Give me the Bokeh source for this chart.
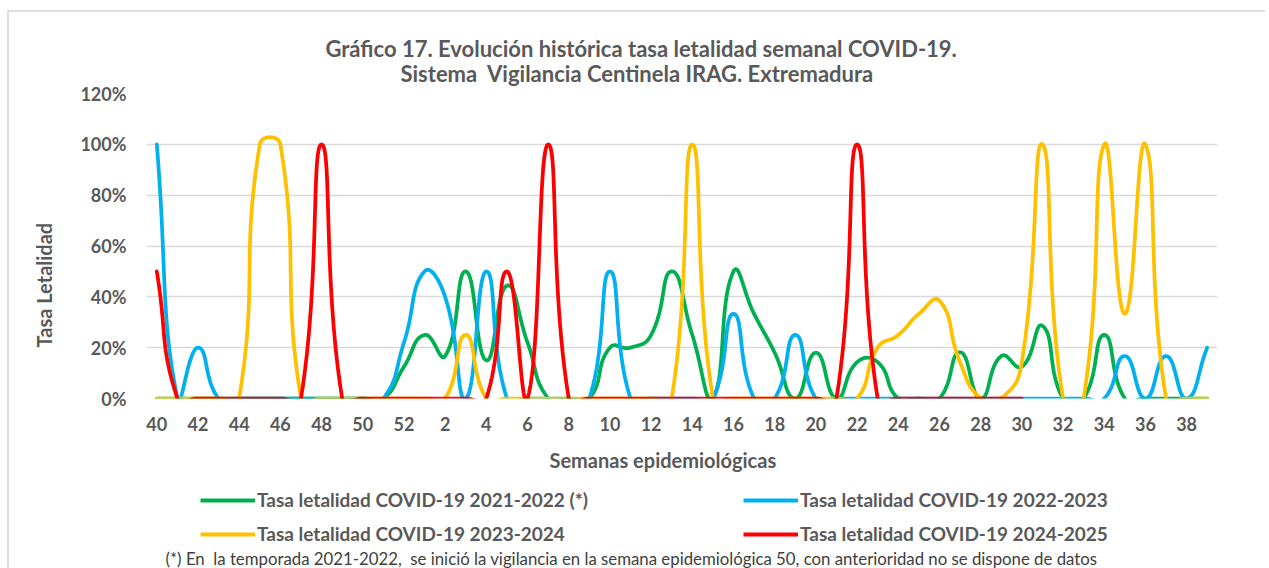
import math
from bokeh.plotting import figure
from bokeh.layouts import column
from bokeh.models import Range1d, FixedTicker, Title, Legend, LegendItem, InlineStyleSheet
from bokeh.embed import file_html
from bokeh.resources import INLINE

# ---- data -------------------------------------------------------------
weeks = [40, 41, 42, 43, 44, 45, 46, 47, 48, 49, 50, 51, 52,
         1, 2, 3, 4, 5, 6, 7, 8, 9, 10, 11, 12, 13, 14, 15, 16, 17, 18, 19,
         20, 21, 22, 23, 24, 25, 26, 27, 28, 29, 30, 31, 32, 33, 34, 35, 36,
         37, 38, 39]

s2122 = [0, 0, 0, 0, 0, 0, 0, 0, 0, 0, 0, 0, 12.5, 25, 16.7, 50, 15, 44.4,
         22, 0, 0, 0, 20, 20, 25, 50, 25, 0, 50, 33.3, 18, 0, 18, 0, 14.3,
         14.3, 0, 0, 0, 18.2, 0, 16.7, 12.5, 28.6, 0, 0, 25, 0, 0, 0, 0, 0]

s2223 = [100, 0, 20, 0, 0, 0, 0, 0, 0, 0, 0, 0, 22, 50, 40, 0, 50, 0, 0, 0,
         0, 0, 50, 0, 0, 0, 0, 0, 33.3, 0, 0, 25, 0, 0, 0, 0, 0, 0, 0, 0, 0,
         0, 0, 0, 0, 0, 0, 16.7, 0, 16.7, 0, 20]

s2324 = [0, 0, 0, 0, 0, 100, 100, 0, 0, 0, 0, 0, 0, 0, 0, 25, 0, 0, 0, 0,
         0, 0, 0, 0, 0, 0, 100, 0, 0, 0, 0, 0, 0, 0, 0, 20, 25, 33.3, 38.5,
         14.3, 0, 0, 14.3, 100, 0, 0, 100, 33.3, 100, 0, 0, 0]

s2425 = [50, 0, 0, 0, 0, 0, 0, 0, 100, 0, 0, 0, 0, 0, 0, 0, 0, 50, 0, 100,
         0, 0, 0, 0, 0, 0, 0, 0, 0, 0, 0, 0, 0, 0, 100, 0, 0, 0, 0, 0, 0, 0,
         0, None, None, None, None, None, None, None, None, None]

series_names = ["Tasa letalidad COVID-19 2021-2022 (*)",
                "Tasa letalidad COVID-19 2022-2023",
                "Tasa letalidad COVID-19 2023-2024",
                "Tasa letalidad COVID-19 2024-2025"]
series_values = [s2122, s2223, s2324, s2425]
series_colors = ["#00B050", "#00B0F0", "#FFC000", "#FF0000"]

y_ticks = [0, 20, 40, 60, 80, 100, 120]

title_1 = "Gráfico 17. Evolución histórica tasa letalidad semanal COVID-19."
title_2 = "Sistema\u00a0 Vigilancia Centinela IRAG. Extremadura"
x_title = "Semanas epidemiológicas"
y_title = "Tasa Letalidad"
footnote = ("(*) En\u00a0 la temporada 2021-2022,\u00a0 se inició la vigilancia en la "
            "semana epidemiológica 50, con anterioridad no se dispone de datos")

# ---- layout -------------------------------------------------------------
W = 1265
H1 = 442
H2 = 568 - H1
ML, MR, MT, MB = 146, W - 1217, 93, H1 - 398
X0, X1 = -0.5, len(weeks) - 0.5
Y0, Y1 = 0, 120

GRAY = "#595959"
FONT = "Lato"

p = figure(width=W, height=H1, output_backend="svg", toolbar_location=None,
           x_range=Range1d(X0, X1), y_range=Range1d(Y0, Y1),
           min_border_left=ML, min_border_right=MR,
           min_border_top=MT, min_border_bottom=MB, title=None)
p.outline_line_color = None
p.background_fill_color = "white"
p.border_fill_color = "white"

# pixel aspect for Excel-like smoothing
SX = (W - ML - MR) / (X1 - X0)
SY = (H1 - MT - MB) / (Y1 - Y0)


def smooth(xs, ys, tension=0.5, steps=24):
    pts = [(x * SX, y * SY) for x, y in zip(xs, ys)]
    n = len(pts)
    ox, oy = [xs[0]], [ys[0]]
    for i in range(n - 1):
        p0 = pts[i - 1] if i > 0 else pts[i]
        p1 = pts[i]
        p2 = pts[i + 1]
        p3 = pts[i + 2] if i + 2 < n else pts[i + 1]
        d01 = math.dist(p0, p1)
        d12 = math.dist(p1, p2)
        d23 = math.dist(p2, p3)
        f1 = tension * d12 / (d01 + d12) if d01 + d12 > 0 else 0
        f2 = tension * d12 / (d12 + d23) if d12 + d23 > 0 else 0
        c1 = (p1[0] + f1 * (p2[0] - p0[0]), p1[1] + f1 * (p2[1] - p0[1]))
        c2 = (p2[0] - f2 * (p3[0] - p1[0]), p2[1] - f2 * (p3[1] - p1[1]))
        for k in range(1, steps + 1):
            t = k / steps
            u = 1 - t
            bx = u**3 * p1[0] + 3 * u * u * t * c1[0] + 3 * u * t * t * c2[0] + t**3 * p2[0]
            by = u**3 * p1[1] + 3 * u * u * t * c1[1] + 3 * u * t * t * c2[1] + t**3 * p2[1]
            ox.append(bx / SX)
            oy.append(by / SY)
    return ox, oy


LW = 3.75
for vals, col in zip(series_values, series_colors):
    idx = [i for i, v in enumerate(vals) if v is not None]
    ys = [vals[i] for i in idx]
    sx, sy = smooth(idx, ys)
    p.line(sx, sy, line_color=col, line_width=LW, line_join="round",
           line_cap="round")

# axes
p.xaxis.ticker = FixedTicker(ticks=list(range(0, len(weeks), 2)))
p.xaxis.major_label_overrides = {i: str(weeks[i]) for i in range(0, len(weeks), 2)}
p.yaxis.ticker = FixedTicker(ticks=y_ticks)
p.yaxis.major_label_overrides = {v: f"{v}%" for v in y_ticks}
for ax in (p.xaxis[0], p.yaxis[0]):
    ax.axis_line_color = None
    ax.major_tick_line_color = None
    ax.minor_tick_line_color = None
    ax.major_tick_out = 0
    ax.major_tick_in = 0
    ax.major_label_text_font = FONT
    ax.major_label_text_font_style = "bold"
    ax.major_label_text_font_size = "18px"
    ax.major_label_text_color = GRAY
p.xaxis.major_label_standoff = 18
p.yaxis.major_label_standoff = 20

p.xgrid.visible = False
p.ygrid.grid_line_color = "#d9d9d9"
p.ygrid.grid_line_width = 1.5

# y axis title
p.add_layout(Title(text=y_title, align="left", offset=51, standoff=43,
                   text_font=FONT, text_font_style="bold", text_font_size="20px",
                   text_color=GRAY), "left")

# titles (added nearest-first)
title_style = dict(align="left", text_font=FONT, text_font_style="bold",
                   text_font_size="22px", text_color=GRAY)
p.add_layout(Title(text=title_2, offset=254, standoff=14, **title_style), "above")
try:
    t1 = Title(text=title_1, offset=179, standoff=-22, **title_style)
except Exception:
    t1 = Title(text=title_1, offset=179, standoff=0, **title_style)
p.add_layout(t1, "above")

# ---- x title + legend + footnote strip ----------------------------------
q = figure(width=W, height=H2, output_backend="svg", toolbar_location=None,
           x_range=Range1d(0, 1), y_range=Range1d(0, 1),
           x_axis_type=None, y_axis_type=None,
           min_border_left=0, min_border_right=0,
           min_border_top=0, min_border_bottom=0, title=None)
q.outline_line_color = None
q.background_fill_color = "white"
q.border_fill_color = "white"

q.add_layout(Title(text=x_title, align="left", offset=403, standoff=7,
                   text_font=FONT, text_font_style="bold",
                   text_font_size="20px", text_color=GRAY), "above")

items = []
for name, col in zip(series_names, series_colors):
    # one-point stand-in so the legend can draw its swatch (draws nothing)
    r = q.line(x=[0], y=[0], line_color=col, line_width=LW + 0.25)
    items.append(LegendItem(label=name, renderers=[r]))

leg_style = dict(orientation="vertical", glyph_width=55, glyph_height=20,
                 label_height=20, label_standoff=2, spacing=11, padding=0,
                 margin=0, border_line_color=None, background_fill_alpha=0,
                 label_text_font=FONT, label_text_font_style="bold",
                 label_text_font_size="19px", label_text_color=GRAY)
q.add_layout(Legend(items=[items[0], items[2]], location=(54, 0), **leg_style), "center")
q.add_layout(Legend(items=[items[1], items[3]], location=(597, 0), **leg_style), "center")

q.add_layout(Title(text=footnote, align="left", offset=19, standoff=0,
                   text_font=FONT, text_font_style="normal",
                   text_font_size="16.8px", text_color="#404040"), "below")

# light chart-area border (top and left edges, as in the reference)
frame_css = InlineStyleSheet(css="""
:host { position: relative; }
:host::after {
  content: ""; position: absolute; left: 7px; top: 10px; right: 0; bottom: 0;
  border-top: 2px solid #dedede; border-left: 2px solid #dedede;
  pointer-events: none;
}
""")
layout = column(p, q, spacing=0, stylesheets=[frame_css])
open("out.html", "w").write(file_html(layout, INLINE))
